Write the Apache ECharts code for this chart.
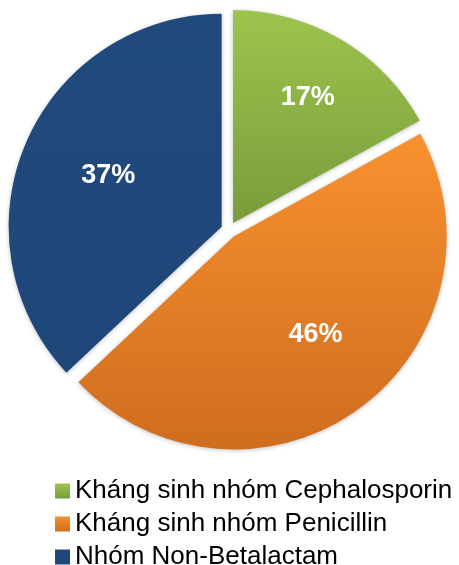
<!DOCTYPE html>
<html>
<head>
<meta charset="utf-8">
<script src="https://cdn.jsdelivr.net/npm/echarts@6/dist/echarts.min.js"></script>
<style>
    html, body { margin: 0; padding: 0; background: #fff; }
    #chart { width: 459px; height: 565px; }
</style>
</head>
<body>
<div id="chart"></div>
<script>
const categories = ['Kháng sinh nhóm Cephalosporin', 'Kháng sinh nhóm Penicillin', 'Nhóm Non-Betalactam'];
const values = [17, 46, 37];
const colorTop = ['#9dc44e', '#f8912f', '#214a7c'];
const colorBottom = ['#799c3a', '#cf6d1f', '#1f4679'];

const fontName = '"Liberation Sans", Arial, sans-serif';

function gradient(i) {
    return {
        type: 'linear',
        x: 0, y: 0, x2: 0, y2: 1,
        colorStops: [
            { offset: 0, color: colorTop[i] },
            { offset: 1, color: colorBottom[i] }
        ],
        global: false
    };
}

const sliceData = categories.map(function (name, i) {
    const style = {
        color: gradient(i),
        shadowBlur: 4,
        shadowColor: 'rgba(0,0,0,0.25)',
        shadowOffsetY: 1
    };
    return {
        name: name,
        value: values[i],
        selected: true,
        itemStyle: style,
        select: { itemStyle: style }
    };
});

// transparent copy, only to put the percent labels further out
const labelData = categories.map(function (name, i) {
    return { name: name, value: values[i], selected: true };
});
// small nudges so the labels sit like Excel's best fit
const labelNudge = [[9, -15], [6, -6], [5, 0]];

const chart = echarts.init(document.getElementById('chart'));
chart.setOption({
    animation: false,
    legend: {
        orient: 'vertical',
        left: 55,
        top: 478,
        height: 120,
        padding: 0,
        icon: 'rect',
        itemWidth: 15,
        itemHeight: 15,
        itemGap: 7,
        data: categories,
        selectedMode: false,
        textStyle: {
            fontFamily: fontName,
            fontSize: 26,
            lineHeight: 24,
            color: '#000'
        }
    },
    series: [
        {
            type: 'pie',
            center: [229, 230],
            radius: [0, 213],
            startAngle: 90,
            clockwise: true,
            selectedMode: 'multiple',
            selectedOffset: 8,
            silent: true,
            label: { show: false },
            labelLine: { show: false },
            emphasis: { disabled: true },
            data: sliceData
        },
        {
            type: 'pie',
            center: [229, 230],
            radius: [0, 252],
            startAngle: 90,
            clockwise: true,
            selectedMode: 'multiple',
            selectedOffset: 8,
            silent: true,
            itemStyle: { color: 'rgba(0,0,0,0)' },
            select: { itemStyle: { color: 'rgba(0,0,0,0)', borderWidth: 0 } },
            emphasis: { disabled: true },
            labelLine: { show: false },
            label: {
                show: true,
                position: 'inside',
                formatter: '{c}%',
                color: '#fff',
                fontFamily: fontName,
                fontWeight: 'bold',
                fontSize: 27
            },
            labelLayout: function (params) {
                const n = labelNudge[params.dataIndex];
                return { dx: n[0], dy: n[1] };
            },
            data: labelData
        }
    ]
});
</script>
</body>
</html>
